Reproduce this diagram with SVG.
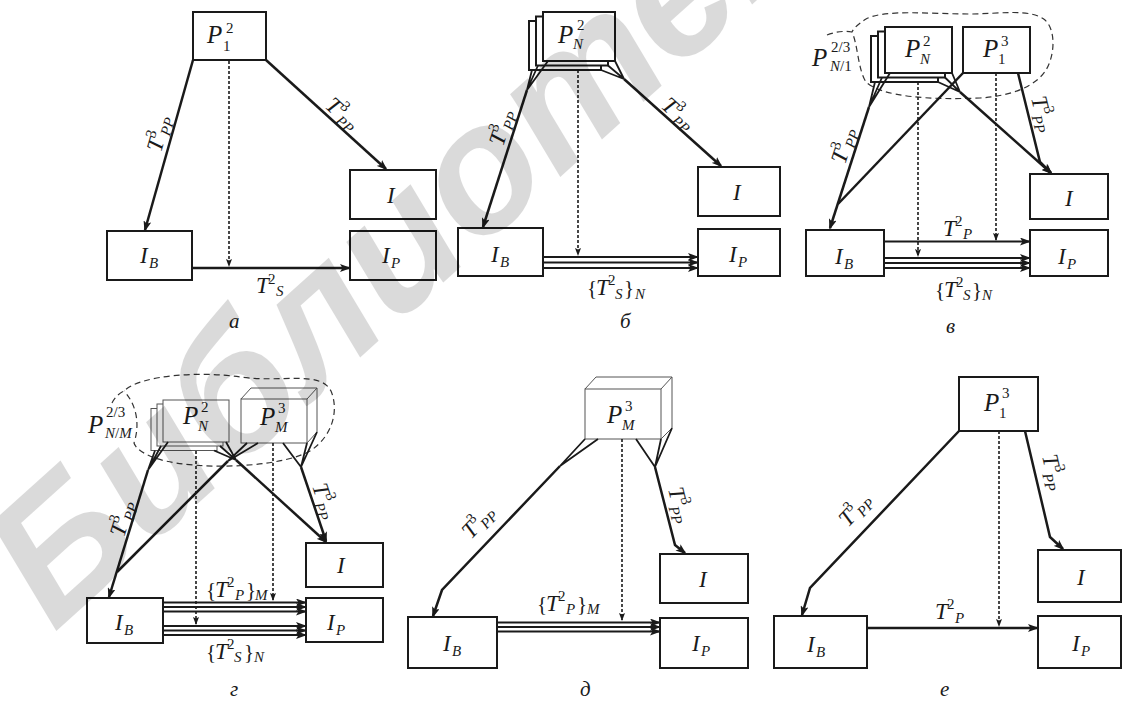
<svg xmlns="http://www.w3.org/2000/svg" width="1124" height="704" viewBox="0 0 1124 704">
<defs>
<marker id="ah" viewBox="0 0 11 8" refX="9" refY="4" markerWidth="11" markerHeight="8" orient="auto" markerUnits="userSpaceOnUse"><path d="M0,0 L11,4 L0,8 L2.5,4 Z" fill="#1a1a1a"/></marker>
<marker id="ahd" viewBox="0 0 8 6" refX="7" refY="3" markerWidth="8" markerHeight="6" orient="auto" markerUnits="userSpaceOnUse"><path d="M0,0 L8,3 L0,6 L1.5,3 Z" fill="#1a1a1a"/></marker>
<style>
.b{fill:#fff;stroke:#1a1a1a;stroke-width:2}
.tb{fill:#fff;stroke:#555;stroke-width:1}
.tl{fill:none;stroke:#555;stroke-width:1}
.c{fill:none;stroke:#1a1a1a;stroke-width:2.5;marker-end:url(#ah)}
.cl{fill:none;stroke:#1a1a1a;stroke-width:2.5}
.f{fill:none;stroke:#1a1a1a;stroke-width:1.8}
.m{fill:none;stroke:#1a1a1a;stroke-width:2;marker-end:url(#ah)}
.dl{fill:none;stroke:#1a1a1a;stroke-width:1.6;stroke-dasharray:3 2;marker-end:url(#ahd)}
.bl{fill:none;stroke:#333;stroke-width:1.2;stroke-dasharray:6 4}
text{font-family:"Liberation Serif","Times New Roman",serif;font-style:italic;fill:#1a1a1a}
.n{font-size:25px}
.s{font-size:15px}
.u{font-style:normal}
.t{font-size:23px}
.br{font-size:21px;font-style:normal}
.cap{font-size:21px}
.wm{font-family:"Liberation Sans",sans-serif;font-style:italic;font-weight:bold;font-size:180px;fill:#000}
</style>
</defs>
<rect width="1124" height="704" fill="#fff"/>

<!-- ===== Panel a ===== -->
<g id="panel-a">
<g id="a-P"><rect class="b" x="193" y="12" width="73" height="48"/><text class="n" x="207" y="43">P</text><text class="s u" x="226" y="33">2</text><text class="s u" x="223" y="51">1</text></g>
<g id="a-IB"><rect class="b" x="107" y="231" width="85" height="49"/><text class="t" x="140" y="263">I</text><text class="s" x="149" y="268">B</text></g>
<g id="a-I"><rect class="b" x="350" y="170" width="86" height="49"/><text class="t" x="387" y="203">I</text></g>
<g id="a-IP"><rect class="b" x="350" y="231" width="86" height="49"/><text class="t" x="382" y="263">I</text><text class="s" x="391" y="268">P</text></g>
<g id="a-connectors">
<path class="c" d="M193,60 L145,230"/>
<path class="c" d="M266,60 L386,169"/>
<path class="c" d="M192,268 L349,268"/>
<path class="dl" d="M229,61 L229,266"/>
</g>
<g id="a-labels">
<g transform="translate(161,153) rotate(-74)"><text class="t" x="0" y="0">T</text><text class="s u" x="12" y="-10">3</text><text class="s" x="18" y="4">PP</text></g>
<g transform="translate(324,107) rotate(42)"><text class="t" x="0" y="0">T</text><text class="s u" x="12" y="-10">3</text><text class="s" x="18" y="4">PP</text></g>
<text class="t" x="256" y="293">T</text><text class="s u" x="268" y="284">2</text><text class="s" x="276" y="296">S</text>
<text class="cap" x="229" y="328">а</text>
</g>
</g>

<!-- ===== Panel b ===== -->
<g id="panel-b">
<g id="b-PN"><rect class="b" x="529" y="21" width="72" height="49"/><rect class="b" x="536" y="16.5" width="72" height="49"/><rect class="b" x="543" y="12" width="72" height="49"/><text class="n" x="558" y="43">P</text><text class="s u" x="577" y="30">2</text><text class="s" x="573" y="49">N</text></g>
<g id="b-IB"><rect class="b" x="458" y="228" width="85" height="48"/><text class="t" x="491" y="262">I</text><text class="s" x="500" y="267">B</text></g>
<g id="b-I"><rect class="b" x="698" y="167" width="82" height="49"/><text class="t" x="733" y="200">I</text></g>
<g id="b-IP"><rect class="b" x="698" y="229" width="82" height="47"/><text class="t" x="729" y="262">I</text><text class="s" x="738" y="267">P</text></g>
<g id="b-connectors">
<path class="f" d="M548,61 L527,90 M538,65.5 L527,90 M532,70 L527,90"/>
<path class="c" d="M527,90 L483,227"/>
<path class="f" d="M615,61 L624,79 M608,65.5 L624,79 M601,70 L624,79"/>
<path class="c" d="M624,79 L721,166"/>
<path class="m" d="M543,257 L697,257"/>
<path class="m" d="M543,262.5 L697,262.5"/>
<path class="m" d="M543,268 L697,268"/>
<path class="dl" d="M578,70 L578,255"/>
</g>
<g id="b-labels">
<g transform="translate(503,147) rotate(-72)"><text class="t" x="0" y="0">T</text><text class="s u" x="12" y="-10">3</text><text class="s" x="18" y="4">PP</text></g>
<g transform="translate(660,107) rotate(42)"><text class="t" x="0" y="0">T</text><text class="s u" x="12" y="-10">3</text><text class="s" x="18" y="4">PP</text></g>
<text class="br" x="587" y="295">{</text><text class="t" x="596" y="295">T</text><text class="s u" x="608" y="285">2</text><text class="s" x="615" y="299">S</text><text class="br" x="624" y="295">}</text><text class="s" x="635" y="299">N</text>
<text class="cap" x="620" y="328">б</text>
</g>
</g>

<!-- ===== Panel v ===== -->
<g id="panel-v">
<path class="bl" d="M827,35 Q840,30 852,32 C858,45 858,70 866,82 C882,97 930,100 980,98 C1012,96 1036,86 1046,70 C1055,55 1056,30 1045,20 C1030,8 1000,14 970,14 C930,14 885,9 866,19 C858,24 854,28 852,32"/>
<g id="v-PN"><rect class="b" x="871" y="36" width="67" height="46"/><rect class="b" x="878" y="31.5" width="67" height="46"/><rect class="b" x="885" y="27" width="67" height="46"/><text class="n" x="905" y="57">P</text><text class="s u" x="923" y="46">2</text><text class="s" x="920" y="64">N</text></g>
<g id="v-P1"><rect class="b" x="963" y="27" width="67" height="46"/><text class="n" x="983" y="57">P</text><text class="s u" x="1001" y="46">3</text><text class="s u" x="998" y="64">1</text></g>
<g id="v-group-label"><text class="n" x="812" y="66">P</text><text class="s u" x="831" y="52">2/3</text><text class="s" x="830" y="71">N<tspan class="u">/1</tspan></text></g>
<g id="v-IB"><rect class="b" x="806" y="230" width="78" height="46"/><text class="t" x="835" y="264">I</text><text class="s" x="844" y="269">B</text></g>
<g id="v-I"><rect class="b" x="1030" y="174" width="78" height="45"/><text class="t" x="1065" y="206">I</text></g>
<g id="v-IP"><rect class="b" x="1030" y="230" width="78" height="46"/><text class="t" x="1058" y="264">I</text><text class="s" x="1067" y="269">P</text></g>
<g id="v-connectors">
<path class="f" d="M890,73 L869,107 M882,77.5 L869,107 M875,82 L869,107"/>
<path class="c" d="M869,107 L830,228"/>
<path class="cl" d="M963,73 L838,204"/>
<path class="f" d="M952,73 L960,92 M945,77.5 L960,92 M938,82 L960,92"/>
<path class="c" d="M960,92 L1051,173"/>
<path class="c" d="M1018,73 L1040,162 L1051,173"/>
<path class="m" d="M884,241.5 L1029,241.5"/>
<path class="m" d="M884,258 L1029,258"/>
<path class="m" d="M884,263 L1029,263"/>
<path class="m" d="M884,268 L1029,268"/>
<path class="dl" d="M918,82 L918,256"/>
<path class="dl" d="M996,73 L996,240"/>
</g>
<g id="v-labels">
<g transform="translate(845,165) rotate(-72)"><text class="t" x="0" y="0">T</text><text class="s u" x="12" y="-10">3</text><text class="s" x="18" y="4">PP</text></g>
<g transform="translate(1031,98) rotate(76)"><text class="t" x="0" y="0">T</text><text class="s u" x="12" y="-10">3</text><text class="s" x="18" y="4">PP</text></g>
<text class="t" x="943" y="236">T</text><text class="s u" x="955" y="226">2</text><text class="s" x="963" y="239">P</text>
<text class="br" x="935" y="297">{</text><text class="t" x="944" y="297">T</text><text class="s u" x="956" y="287">2</text><text class="s" x="963" y="300">S</text><text class="br" x="972" y="297">}</text><text class="s" x="982" y="300">N</text>
<text class="cap" x="946" y="333">в</text>
</g>
</g>

<!-- ===== Panel g ===== -->
<g id="panel-g">
<path class="bl" d="M112,403 Q116,395 124,391 C140,375 200,371 240,377 C282,383 320,370 331,391 C339,410 333,436 310,451 C285,465 222,470 176,463 C150,459 136,450 134,443 C140,425 137,405 124,391"/>
<g id="g-PN"><rect class="tb" x="151" y="408.5" width="66" height="42"/><rect class="tb" x="157" y="404" width="66" height="42"/><rect class="tb" x="163" y="400" width="66" height="42"/><text class="n" x="183" y="424">P</text><text class="s u" x="201" y="412">2</text><text class="s" x="198" y="431">N</text></g>
<g id="g-PM"><path class="tl" d="M241,399 L251,388 L317,388 L317,432 L307,443 M307,399 L317,388"/><rect class="tb" x="241" y="399" width="66" height="44"/><text class="n" x="260" y="425">P</text><text class="s u" x="278" y="413">3</text><text class="s" x="275" y="432">M</text></g>
<g id="g-group-label"><text class="n" x="88" y="433">P</text><text class="s u" x="106" y="417">2/3</text><text class="s" x="105" y="438">N<tspan class="u">/</tspan>M</text></g>
<g id="g-IB"><rect class="b" x="87" y="598" width="76" height="45"/><text class="t" x="115" y="630">I</text><text class="s" x="124" y="635">B</text></g>
<g id="g-I"><rect class="b" x="306" y="543" width="77" height="44"/><text class="t" x="337" y="573">I</text></g>
<g id="g-IP"><rect class="b" x="306" y="598" width="77" height="44"/><text class="t" x="327" y="630">I</text><text class="s" x="336" y="635">P</text></g>
<g id="g-connectors">
<path class="f" d="M168,442 L148,470 M161,446 L148,470 M155,450.5 L148,470"/>
<path class="c" d="M148,470 L109,597"/>
<path class="f" d="M226,442 L236,460 M220,446 L236,460 M214,450.5 L236,460"/>
<path class="c" d="M236,460 L326,542"/>
<path class="f" d="M258,443 L228,461 M247,443 L228,461"/>
<path class="cl" d="M228,461 L117,572"/>
<path class="f" d="M283,443 L301,467 M307,443 L301,467 M317,432 L301,467"/>
<path class="c" d="M301,467 L326,541"/>
<path class="m" d="M163,602.5 L305,602.5"/>
<path class="m" d="M163,607 L305,607"/>
<path class="m" d="M163,611.5 L305,611.5"/>
<path class="m" d="M163,626 L305,626"/>
<path class="m" d="M163,630.5 L305,630.5"/>
<path class="m" d="M163,635 L305,635"/>
<path class="dl" d="M196,451 L196,624"/>
<path class="dl" d="M273,443 L273,600"/>
</g>
<g id="g-labels">
<g transform="translate(124,538) rotate(-73)"><text class="t" x="0" y="0">T</text><text class="s u" x="12" y="-10">3</text><text class="s" x="18" y="4">PP</text></g>
<g transform="translate(312,486) rotate(72)"><text class="t" x="0" y="0">T</text><text class="s u" x="12" y="-10">3</text><text class="s" x="18" y="4">PP</text></g>
<text class="br" x="206" y="597">{</text><text class="t" x="215" y="597">T</text><text class="s u" x="227" y="587">2</text><text class="s" x="235" y="600">P</text><text class="br" x="246" y="597">}</text><text class="s" x="255" y="600">M</text>
<text class="br" x="206" y="659">{</text><text class="t" x="215" y="659">T</text><text class="s u" x="227" y="649">2</text><text class="s" x="234" y="662">S</text><text class="br" x="244" y="659">}</text><text class="s" x="254" y="662">N</text>
<text class="cap" x="230" y="696">г</text>
</g>
</g>

<!-- ===== Panel d ===== -->
<g id="panel-d">
<g id="d-PM"><path class="tl" d="M585,389 L596,377 L672,377 L672,428 L661,439 M661,389 L672,377"/><rect class="tb" x="585" y="389" width="76" height="50"/><text class="n" x="607" y="423">P</text><text class="s u" x="625" y="411">3</text><text class="s" x="622" y="430">M</text></g>
<g id="d-IB"><rect class="b" x="408" y="617" width="89" height="51"/><text class="t" x="443" y="651">I</text><text class="s" x="452" y="656">B</text></g>
<g id="d-I"><rect class="b" x="660" y="554" width="88" height="49"/><text class="t" x="699" y="587">I</text></g>
<g id="d-IP"><rect class="b" x="660" y="618" width="88" height="50"/><text class="t" x="692" y="651">I</text><text class="s" x="701" y="656">P</text></g>
<g id="d-connectors">
<path class="f" d="M585,439 L560,466 M598,439 L560,466"/>
<path class="c" d="M560,466 L442,590 L433,616"/>
<path class="f" d="M636,439 L655,467 M661,439 L655,467 M672,428 L655,467"/>
<path class="c" d="M655,467 L675,545 L685,553"/>
<path class="m" d="M497,622.5 L659,622.5"/>
<path class="m" d="M497,627 L659,627"/>
<path class="m" d="M497,631.5 L659,631.5"/>
<path class="dl" d="M622,439 L622,620"/>
</g>
<g id="d-labels">
<g transform="translate(471,540) rotate(-46)"><text class="t" x="0" y="0">T</text><text class="s u" x="12" y="-10">3</text><text class="s" x="18" y="4">PP</text></g>
<g transform="translate(668,489) rotate(76)"><text class="t" x="0" y="0">T</text><text class="s u" x="12" y="-10">3</text><text class="s" x="18" y="4">PP</text></g>
<text class="br" x="537" y="611">{</text><text class="t" x="546" y="611">T</text><text class="s u" x="558" y="601">2</text><text class="s" x="566" y="614">P</text><text class="br" x="577" y="611">}</text><text class="s" x="587" y="614">M</text>
<text class="cap" x="580" y="696">д</text>
</g>
</g>

<!-- ===== Panel e ===== -->
<g id="panel-e">
<g id="e-P"><rect class="b" x="959" y="377" width="79" height="54"/><text class="n" x="984" y="411">P</text><text class="s u" x="1002" y="398">3</text><text class="s u" x="999" y="418">1</text></g>
<g id="e-IB"><rect class="b" x="774" y="616" width="93" height="52"/><text class="t" x="807" y="652">I</text><text class="s" x="816" y="657">B</text></g>
<g id="e-I"><rect class="b" x="1038" y="550" width="83" height="52"/><text class="t" x="1077" y="585">I</text></g>
<g id="e-IP"><rect class="b" x="1038" y="616" width="83" height="52"/><text class="t" x="1072" y="651">I</text><text class="s" x="1081" y="656">P</text></g>
<g id="e-connectors">
<path class="c" d="M959,431 L810,588 L802,615"/>
<path class="c" d="M1025,431 L1050,537 L1063,549"/>
<path class="c" d="M867,628 L1037,628"/>
<path class="dl" d="M999,431 L999,626"/>
</g>
<g id="e-labels">
<g transform="translate(848,528) rotate(-46.5)"><text class="t" x="0" y="0">T</text><text class="s u" x="12" y="-10">3</text><text class="s" x="18" y="4">PP</text></g>
<g transform="translate(1042,456) rotate(77)"><text class="t" x="0" y="0">T</text><text class="s u" x="12" y="-10">3</text><text class="s" x="18" y="4">PP</text></g>
<text class="t" x="935" y="619">T</text><text class="s u" x="947" y="609">2</text><text class="s" x="955" y="623">P</text>
<text class="cap" x="940" y="696">е</text>
</g>
</g>

<g id="watermark" opacity="0.14"><text class="wm" x="0" y="0" transform="translate(54,633) rotate(-42)">Библиотека</text></g>
</svg>
